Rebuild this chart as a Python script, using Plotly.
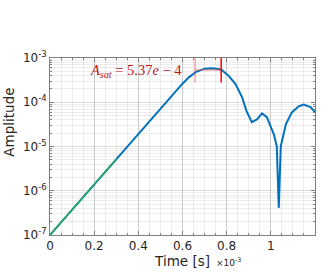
import plotly.graph_objects as go

# time in ms (axis shown with x10^-3 multiplier, data in seconds)
t_ms = [0, 0.1, 0.2, 0.3, 0.4, 0.5, 0.6, 0.63, 0.66, 0.70, 0.735, 0.775, 0.81, 0.84,
        0.87, 0.89, 0.914, 0.937, 0.96, 0.982, 1.014, 1.027, 1.036, 1.045, 1.068,
        1.095, 1.126, 1.149, 1.18, 1.2]
amplitude = [1.0e-7, 3.7e-7, 1.38e-6, 5.25e-6, 1.95e-5, 7.2e-5, 2.63e-4, 3.7e-4, 4.8e-4,
             5.75e-4, 5.9e-4, 5.5e-4, 3.9e-4, 2.57e-4, 1.29e-4, 6.3e-5, 3.55e-5, 4.1e-5,
             5.6e-5, 4.6e-5, 1.86e-5, 1.0e-5, 4.1e-7, 1.0e-5, 3.16e-5, 5.9e-5, 8.1e-5,
             8.9e-5, 7.8e-5, 6.0e-5]

fit_t_ms = [0, 0.3]
fit_amp = [1.0e-7, 5.25e-6]

A_sat = 5.37e-4
t_start_ms = 0.657
t_sat_ms = 0.775
marker_low = 2.8e-4
y_top = 1e-3

x_ticks_ms = [0, 0.2, 0.4, 0.6, 0.8, 1.0]
x_tick_text = ["0", "0.2", "0.4", "0.6", "0.8", "1"]
y_ticks = [1e-7, 1e-6, 1e-5, 1e-4, 1e-3]
y_tick_text = ["10<sup>-7</sup>", "10<sup>-6</sup>", "10<sup>-5</sup>",
               "10<sup>-4</sup>", "10<sup>-3</sup>"]
y_minor = [m * d for d in [1e-7, 1e-6, 1e-5, 1e-4] for m in range(2, 10)]

s = 1e-3
fig = go.Figure()
fig.add_trace(go.Scatter(x=[v * s for v in t_ms], y=amplitude, mode="lines",
                         line=dict(color="#0072BD", width=2), hoverinfo="skip"))
fig.add_trace(go.Scatter(x=[v * s for v in fit_t_ms], y=fit_amp, mode="lines",
                         line=dict(color="#2fb34a", width=1.3), hoverinfo="skip"))
# saturation markers
fig.add_trace(go.Scatter(x=[t_start_ms * s, t_start_ms * s, None, t_start_ms * s, t_sat_ms * s],
                         y=[y_top, marker_low, None, A_sat, A_sat], mode="lines",
                         line=dict(color="rgba(240,80,80,0.6)", width=1.3), hoverinfo="skip"))
fig.add_trace(go.Scatter(x=[t_sat_ms * s, t_sat_ms * s], y=[y_top, marker_low], mode="lines",
                         line=dict(color="#ff0000", width=1.5), hoverinfo="skip"))

axis_common = dict(showline=True, linecolor="#808080", linewidth=1, mirror="ticks",
                   ticks="inside", ticklen=4, tickcolor="#808080", automargin=False,
                   showgrid=True, gridcolor="rgba(0,0,0,0.13)", gridwidth=1,
                   tickfont=dict(family="DejaVu Sans", size=12, color="#262626"),
                   zeroline=False)

fig.update_xaxes(**axis_common, range=[0, 1.2e-3], tickvals=[v * s for v in x_ticks_ms],
                 ticktext=x_tick_text,
                 minor=dict(dtick=0.05e-3, showgrid=True, gridcolor="rgba(0,0,0,0.07)",
                            ticks="inside", ticklen=2, tickcolor="#808080"),
                 title=dict(text="Time [s]", font=dict(family="DejaVu Sans", size=13.5, color="#262626"),
                            standoff=4))
fig.update_yaxes(**axis_common, type="log", range=[-7, -3], tickvals=y_ticks,
                 ticktext=y_tick_text,
                 minor=dict(tickmode="array", tickvals=y_minor, showgrid=True,
                            gridcolor="rgba(0,0,0,0.07)",
                            ticks="inside", ticklen=2, tickcolor="#808080"))

fig.add_annotation(xref="paper", yref="paper", x=-0.155, y=0.64, xanchor="center", yanchor="middle",
                   text="Amplitude", textangle=-90, showarrow=False,
                   font=dict(family="DejaVu Sans", size=13.5, color="#262626"))
fig.add_annotation(xref="paper", yref="paper", x=0.325, y=0.925, xanchor="center", yanchor="middle",
                   text="<i>A<sub>sat</sub></i> = 5.37<i>e</i> − 4", showarrow=False,
                   font=dict(family="Liberation Serif", size=14.5, color="#c0141c"))
fig.add_annotation(xref="paper", yref="paper", x=0.62, y=-0.155, xanchor="left", yanchor="middle",
                   text="×10<sup>-3</sup>", showarrow=False,
                   font=dict(family="DejaVu Sans", size=9, color="#262626"))

fig.update_layout(width=332, height=277, margin=dict(l=50, r=17, t=58, b=42),
                  plot_bgcolor="white", paper_bgcolor="white", showlegend=False)
fig.write_html("out.html", config={"displayModeBar": False},
               post_script="document.body.style.margin='0';")
